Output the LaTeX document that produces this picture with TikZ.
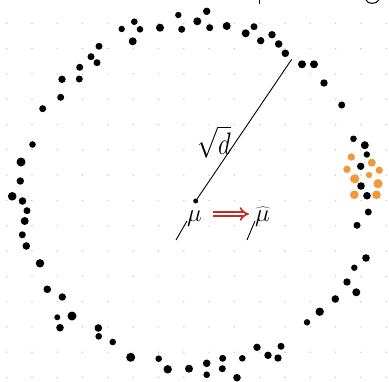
\documentclass[tikz,border=0pt]{standalone}
\usetikzlibrary{arrows.meta}
\definecolor{dotorange}{RGB}{241,153,57}
\definecolor{arrowred}{RGB}{200,40,34}
\begin{document}
\begin{tikzpicture}[x=1pt,y=-1pt,
  bigfont/.style={font=\fontsize{24.88}{26}\selectfont,inner sep=0pt}]
\useasboundingbox (0,0) rectangle (389,381);
% dot grid
\foreach \i in {0,...,15}
  \foreach \j in {0,...,14}
    \fill[black!22] (6.7+25.3*\i,23.3+25.3*\j) circle (0.8pt);
% cut-off strokes from above
\draw[line width=1pt] (259.3,0) -- (259.3,3.5);
\draw[line width=1pt] (366,0) .. controls (368,4.5) and (376,4.5) .. (379,0);
% samples on the shell
\foreach \x/\y/\r in {121.7/29/3.2pt, 134.3/21.7/3.3pt, 140/29.3/3.3pt, 132.7/41.3/4pt,
  160/27.7/4pt, 178.3/15/3.2pt, 181.7/29.3/3.5pt, 197.3/21.3/4pt, 206.7/11.3/3.7pt,
  209.7/27.7/3.5pt, 226.7/26/4pt, 245.7/33.3/4pt, 254/26.7/3.5pt, 260.7/40.7/3.7pt,
  272/34.7/3.7pt, 278.7/44/3.8pt, 285.3/53.3/3.8pt, 302/64.3/4pt, 314/64.3/4pt,
  324/83/3.7pt, 341.7/105/3.5pt,
  99/46.3/3.5pt, 91/56.7/3.5pt, 97/62.7/3.5pt, 79.7/67.3/3.5pt, 62/79.3/3.7pt,
  79.3/79/3.5pt, 60.7/97.3/3.5pt, 42.7/108.7/3.5pt,
  32.5/144.5/3.3pt, 21/162/4.5pt, 20.3/181/3.7pt, 12.2/196.3/4.3pt, 22.5/201/3.8pt,
  27/210.7/3.5pt, 24.7/221/4pt, 22.3/234.8/3.5pt, 26.3/246/3.8pt,
  40/263.3/4.2pt, 47.3/289.3/3.8pt, 62.3/297/3.7pt, 57.3/317.3/3pt, 72/316/4.5pt,
  60/327.7/3.8pt, 98.3/328/3.8pt, 98.7/336.3/3.3pt, 112.7/342/3.3pt, 130.7/357.3/4.5pt,
  158.7/358.7/3.3pt, 167.7/369.3/4.2pt, 189/368.7/4pt, 206.7/363.3/3.8pt,
  206.7/374.7/3.3pt, 222.7/358.3/3.5pt, 222.3/368.7/3.5pt, 237/377.7/3.8pt,
  242.3/358.3/3.3pt, 257/347.3/3.7pt, 268/355.3/3.7pt, 278/358/3.7pt, 281/346.3/3.5pt,
  307/322.3/3.2pt, 319.7/311.7/4.2pt, 335.3/299/3.8pt, 347/282/3.7pt, 356.3/292.3/4pt,
  354.3/267.7/3.2pt, 366/258/3.8pt, 357/225.3/3.5pt, 368.3/212/3.5pt,
  353.5/138.8/3.3pt, 364.8/145.2/4pt, 366.8/154.5/3.2pt, 360.7/166.3/3.7pt,
  361/186/3.8pt, 367/195.7/3.8pt}
  \fill (\x,\y) circle (\r);
% shifted samples
\foreach \x/\y/\r in {351.3/157/3.7pt, 371.8/162.7/4pt, 347/169.3/3.7pt, 379.3/170.2/3.7pt,
  369/175/3.2pt, 354.7/178.8/4.6pt, 378/183.6/4.6pt, 354.3/194.7/4.3pt, 376.5/194.8/4.3pt}
  \fill[dotorange] (\x,\y) circle (\r);
% centre and radius
\node[circle,fill,inner sep=0pt,minimum size=5pt] (ctr) at (195.7,201) {};
\coordinate (rim) at (291.7,59.3);
\draw[line width=0.9pt] (ctr) -- (rim);
\node[bigfont,yscale=1.25] (rad) at (214,142) {$\sqrt{d}$};
% mean and estimate
\node[bigfont,anchor=base] (mu) at (194.5,221) {$\mu$};
\node[bigfont,anchor=base] (muhat) at (262.5,221) {$\widehat{\mu}$};
\coordinate (mutail) at (176,240);
\coordinate (muhattail) at (247,240);
\draw[line width=0.9pt] (mutail) -- (mu.base west);
\draw[line width=0.9pt] (muhattail) -- (muhat.base west);
\draw[draw=arrowred,double,line width=1.7pt,double distance=2.8pt,-{Implies},
  shorten <=11pt,shorten >=6pt] ([yshift=7pt]mu.base east) -- ([yshift=7pt]muhat.base west);
\end{tikzpicture}
\end{document}
